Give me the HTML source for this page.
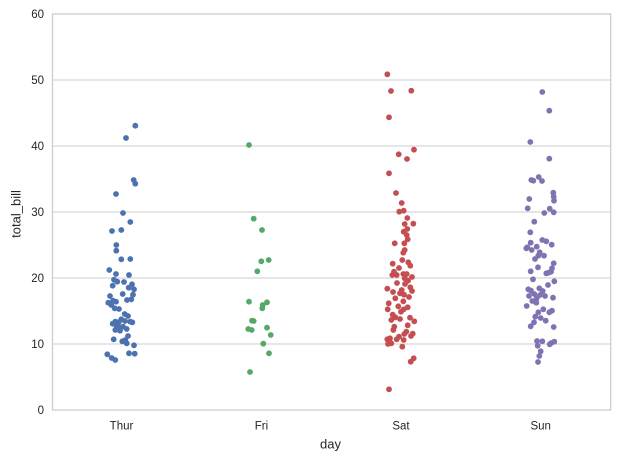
<!DOCTYPE html>
<html>
<head>
<meta charset="utf-8">
<style>
html,body{margin:0;padding:0;background:#fff;}
svg{display:block;}
text{font-family:"Liberation Sans",Arial,sans-serif;fill:#262626;}
</style>
</head>
<body>
<svg width="619" height="460" viewBox="0 0 619 460" xmlns="http://www.w3.org/2000/svg">
<rect x="0" y="0" width="619" height="460" fill="#fff"/>
<!-- grid -->
<g stroke="#cccccc" stroke-width="1">
<line x1="52.5" y1="344" x2="610.7" y2="344"/>
<line x1="52.5" y1="278" x2="610.7" y2="278"/>
<line x1="52.5" y1="212" x2="610.7" y2="212"/>
<line x1="52.5" y1="146" x2="610.7" y2="146"/>
<line x1="52.5" y1="80" x2="610.7" y2="80"/>
</g>
<!-- spines -->
<rect x="52.5" y="14" width="558.2" height="396" fill="none" stroke="#cccccc" stroke-width="1.25"/>
<!-- y tick labels -->
<g font-size="11.5" text-anchor="end">
<text x="44" y="414">0</text>
<text x="44" y="348">10</text>
<text x="44" y="282">20</text>
<text x="44" y="216">30</text>
<text x="44" y="150">40</text>
<text x="44" y="84">50</text>
<text x="44" y="18">60</text>
</g>
<!-- x tick labels -->
<g font-size="11.5" text-anchor="middle">
<text x="121.5" y="429.5">Thur</text>
<text x="261.5" y="429.5">Fri</text>
<text x="401" y="429.5">Sat</text>
<text x="540.7" y="429.5">Sun</text>
</g>
<text x="330.5" y="448.5" font-size="13" text-anchor="middle">day</text>
<text transform="translate(20.5,214) rotate(-90)" font-size="13" text-anchor="middle">total_bill</text>

<!-- Thur -->
<g fill="#4C72B0">
<circle cx="135.3" cy="125.7" r="2.9"/><circle cx="126" cy="138" r="2.9"/><circle cx="133.7" cy="180" r="2.9"/><circle cx="135.3" cy="183.7" r="2.9"/>
<circle cx="116" cy="194" r="2.9"/><circle cx="123" cy="213" r="2.9"/><circle cx="130.3" cy="222" r="2.9"/><circle cx="112" cy="231" r="2.9"/>
<circle cx="121.3" cy="230" r="2.9"/><circle cx="116.3" cy="245" r="2.9"/><circle cx="116.3" cy="250.7" r="2.9"/><circle cx="121.3" cy="259.3" r="2.9"/>
<circle cx="130.3" cy="259" r="2.9"/><circle cx="109.3" cy="270" r="2.9"/><circle cx="116" cy="274" r="2.9"/><circle cx="129" cy="275" r="2.9"/>
<circle cx="114" cy="279.7" r="2.9"/><circle cx="117.3" cy="281.7" r="2.9"/><circle cx="132" cy="284.3" r="2.9"/><circle cx="112.7" cy="285.7" r="2.9"/>
<circle cx="128.7" cy="287.7" r="2.9"/><circle cx="134" cy="289.3" r="2.9"/><circle cx="122.7" cy="294" r="2.9"/><circle cx="133" cy="294.7" r="2.9"/>
<circle cx="108.3" cy="302.7" r="2.9"/><circle cx="113" cy="300.7" r="2.9"/><circle cx="116" cy="301.7" r="2.9"/><circle cx="111.3" cy="305" r="2.9"/>
<circle cx="114.7" cy="308.3" r="2.9"/><circle cx="127" cy="300" r="2.9"/><circle cx="131.3" cy="299.3" r="2.9"/><circle cx="124.7" cy="314" r="2.9"/>
<circle cx="128" cy="316" r="2.9"/><circle cx="121.3" cy="319.3" r="2.9"/><circle cx="115.3" cy="321.7" r="2.9"/><circle cx="112.7" cy="323.7" r="2.9"/>
<circle cx="118.7" cy="322.3" r="2.9"/><circle cx="125" cy="321" r="2.9"/><circle cx="130.3" cy="321.7" r="2.9"/><circle cx="132.3" cy="322.3" r="2.9"/>
<circle cx="116.7" cy="326.7" r="2.9"/><circle cx="119.3" cy="327.7" r="2.9"/><circle cx="123" cy="326.7" r="2.9"/><circle cx="115.3" cy="330" r="2.9"/>
<circle cx="120" cy="330.7" r="2.9"/><circle cx="126.7" cy="329" r="2.9"/><circle cx="128" cy="336" r="2.9"/><circle cx="113.7" cy="339.3" r="2.9"/>
<circle cx="122.3" cy="341.3" r="2.9"/><circle cx="125.3" cy="340" r="2.9"/><circle cx="126.7" cy="343.3" r="2.9"/><circle cx="134" cy="345.3" r="2.9"/>
<circle cx="107.3" cy="354.3" r="2.9"/><circle cx="129" cy="353.3" r="2.9"/><circle cx="134.7" cy="353.7" r="2.9"/><circle cx="111.7" cy="358" r="2.9"/>
<circle cx="115.3" cy="360" r="2.9"/><circle cx="119" cy="309" r="2.9"/><circle cx="110" cy="296" r="2.9"/><circle cx="124" cy="282" r="2.9"/>
</g>

<!-- Fri -->
<g fill="#55A868">
<circle cx="249" cy="145" r="2.9"/><circle cx="253.7" cy="218.7" r="2.9"/><circle cx="262" cy="230" r="2.9"/><circle cx="261.3" cy="261.3" r="2.9"/>
<circle cx="268.7" cy="260" r="2.9"/><circle cx="257.3" cy="271.3" r="2.9"/><circle cx="249" cy="301.7" r="2.9"/><circle cx="267" cy="302.3" r="2.9"/>
<circle cx="262.7" cy="305" r="2.9"/><circle cx="262.3" cy="308.3" r="2.9"/><circle cx="252" cy="320.7" r="2.9"/><circle cx="253.7" cy="321" r="2.9"/>
<circle cx="248.3" cy="329" r="2.9"/><circle cx="251.7" cy="330" r="2.9"/><circle cx="267" cy="327.7" r="2.9"/><circle cx="270.7" cy="335" r="2.9"/>
<circle cx="263.3" cy="343.7" r="2.9"/><circle cx="269" cy="353.3" r="2.9"/><circle cx="250" cy="372" r="2.9"/>
</g>

<!-- Sat -->
<g fill="#C44E52">
<circle cx="387.3" cy="74.3" r="2.9"/><circle cx="391" cy="91" r="2.9"/><circle cx="411.3" cy="90.7" r="2.9"/><circle cx="389" cy="117.3" r="2.9"/>
<circle cx="414" cy="149.7" r="2.9"/><circle cx="398.7" cy="154.3" r="2.9"/><circle cx="407" cy="159" r="2.9"/><circle cx="389" cy="173.3" r="2.9"/>
<circle cx="396" cy="193" r="2.9"/><circle cx="401.7" cy="203" r="2.9"/><circle cx="399.3" cy="211.7" r="2.9"/><circle cx="403.7" cy="210.7" r="2.9"/>
<circle cx="407.3" cy="218" r="2.9"/><circle cx="404.7" cy="224" r="2.9"/><circle cx="413.3" cy="223.7" r="2.9"/><circle cx="407.3" cy="229" r="2.9"/>
<circle cx="403.7" cy="231.7" r="2.9"/><circle cx="406.7" cy="235" r="2.9"/><circle cx="407.7" cy="239.3" r="2.9"/><circle cx="394.7" cy="243.3" r="2.9"/>
<circle cx="404.3" cy="243.3" r="2.9"/><circle cx="404.7" cy="250" r="2.9"/><circle cx="403.3" cy="252.7" r="2.9"/><circle cx="402.3" cy="260" r="2.9"/>
<circle cx="392.7" cy="263.7" r="2.9"/><circle cx="408.3" cy="262.3" r="2.9"/><circle cx="410.3" cy="265.7" r="2.9"/><circle cx="394" cy="271.7" r="2.9"/>
<circle cx="392.3" cy="275" r="2.9"/><circle cx="396.7" cy="275" r="2.9"/><circle cx="403.3" cy="274" r="2.9"/><circle cx="406.7" cy="274" r="2.9"/>
<circle cx="404.7" cy="278.3" r="2.9"/><circle cx="408" cy="280.7" r="2.9"/><circle cx="405" cy="284" r="2.9"/><circle cx="387.3" cy="288.7" r="2.9"/>
<circle cx="401.7" cy="290" r="2.9"/><circle cx="410.3" cy="287.3" r="2.9"/><circle cx="412" cy="291" r="2.9"/><circle cx="400" cy="293.3" r="2.9"/>
<circle cx="404" cy="294.7" r="2.9"/><circle cx="395.3" cy="298.3" r="2.9"/><circle cx="403.3" cy="301.3" r="2.9"/><circle cx="388.7" cy="303.3" r="2.9"/>
<circle cx="398.3" cy="306.3" r="2.9"/><circle cx="407.7" cy="307.3" r="2.9"/><circle cx="387.7" cy="309.3" r="2.9"/><circle cx="403.7" cy="309.3" r="2.9"/>
<circle cx="401" cy="311.7" r="2.9"/><circle cx="392.7" cy="314.7" r="2.9"/><circle cx="410" cy="317.7" r="2.9"/><circle cx="395.3" cy="317.3" r="2.9"/>
<circle cx="414.3" cy="321.3" r="2.9"/><circle cx="391.3" cy="320" r="2.9"/><circle cx="394.3" cy="326.7" r="2.9"/><circle cx="407.7" cy="325.3" r="2.9"/>
<circle cx="393.3" cy="330" r="2.9"/><circle cx="406.3" cy="331.7" r="2.9"/><circle cx="412.7" cy="333.7" r="2.9"/><circle cx="411" cy="336" r="2.9"/>
<circle cx="404.3" cy="334" r="2.9"/><circle cx="399" cy="336.7" r="2.9"/><circle cx="387.3" cy="339.3" r="2.9"/><circle cx="390" cy="338.3" r="2.9"/>
<circle cx="391.3" cy="343.3" r="2.9"/><circle cx="396.7" cy="339.3" r="2.9"/><circle cx="403.7" cy="340" r="2.9"/><circle cx="402.3" cy="346.7" r="2.9"/>
<circle cx="413.7" cy="358.3" r="2.9"/><circle cx="410.7" cy="361.7" r="2.9"/><circle cx="389" cy="389.3" r="2.9"/>
<circle cx="397" cy="283" r="2.9"/><circle cx="399" cy="268" r="2.9"/><circle cx="409" cy="297" r="2.9"/><circle cx="393" cy="292" r="2.9"/>
<circle cx="388" cy="344" r="2.9"/><circle cx="400" cy="319" r="2.9"/><circle cx="412" cy="277" r="2.9"/>
</g>

<!-- Sun -->
<g fill="#8172B2">
<circle cx="542.3" cy="92" r="2.9"/><circle cx="549.3" cy="110.7" r="2.9"/><circle cx="530.3" cy="142" r="2.9"/><circle cx="549.3" cy="158.7" r="2.9"/>
<circle cx="531.3" cy="180" r="2.9"/><circle cx="533.3" cy="180.7" r="2.9"/><circle cx="538.7" cy="177" r="2.9"/><circle cx="542" cy="181" r="2.9"/>
<circle cx="553.3" cy="192.7" r="2.9"/><circle cx="553.7" cy="196.7" r="2.9"/><circle cx="529.3" cy="199" r="2.9"/><circle cx="554" cy="200.7" r="2.9"/>
<circle cx="527.7" cy="208.3" r="2.9"/><circle cx="549.7" cy="208.7" r="2.9"/><circle cx="553.7" cy="212.3" r="2.9"/><circle cx="544.3" cy="213" r="2.9"/>
<circle cx="534.3" cy="221.7" r="2.9"/><circle cx="530.3" cy="232.3" r="2.9"/><circle cx="542.3" cy="240" r="2.9"/><circle cx="546.3" cy="241.3" r="2.9"/>
<circle cx="551.7" cy="244.7" r="2.9"/><circle cx="530.7" cy="242.7" r="2.9"/><circle cx="527.3" cy="247.3" r="2.9"/><circle cx="536.7" cy="246.7" r="2.9"/>
<circle cx="526.3" cy="248.3" r="2.9"/><circle cx="531.7" cy="250" r="2.9"/><circle cx="539.7" cy="252.3" r="2.9"/><circle cx="538.3" cy="255.7" r="2.9"/>
<circle cx="544" cy="255.7" r="2.9"/><circle cx="553.7" cy="263.3" r="2.9"/><circle cx="538" cy="267.3" r="2.9"/><circle cx="552" cy="268.3" r="2.9"/>
<circle cx="530.7" cy="271.3" r="2.9"/><circle cx="551" cy="271.7" r="2.9"/><circle cx="548.7" cy="272.7" r="2.9"/><circle cx="546.3" cy="273.3" r="2.9"/>
<circle cx="533" cy="279.3" r="2.9"/><circle cx="554.3" cy="281.3" r="2.9"/><circle cx="528.3" cy="289.3" r="2.9"/><circle cx="531" cy="290.7" r="2.9"/>
<circle cx="539.3" cy="288.3" r="2.9"/><circle cx="542.7" cy="291" r="2.9"/><circle cx="534.3" cy="294" r="2.9"/><circle cx="529" cy="296" r="2.9"/>
<circle cx="536.7" cy="298.3" r="2.9"/><circle cx="540" cy="295" r="2.9"/><circle cx="545" cy="296" r="2.9"/><circle cx="553" cy="297.7" r="2.9"/>
<circle cx="532.3" cy="301" r="2.9"/><circle cx="536.3" cy="302.7" r="2.9"/><circle cx="526.7" cy="306" r="2.9"/><circle cx="543.3" cy="309.3" r="2.9"/>
<circle cx="552" cy="310.7" r="2.9"/><circle cx="549.3" cy="312.3" r="2.9"/><circle cx="538.3" cy="312.3" r="2.9"/><circle cx="535.3" cy="316.7" r="2.9"/>
<circle cx="540.7" cy="318" r="2.9"/><circle cx="545.7" cy="320.7" r="2.9"/><circle cx="534" cy="322.3" r="2.9"/><circle cx="530.7" cy="326.3" r="2.9"/>
<circle cx="553.7" cy="327" r="2.9"/><circle cx="537" cy="341" r="2.9"/><circle cx="542.3" cy="341.3" r="2.9"/><circle cx="554.3" cy="341.7" r="2.9"/>
<circle cx="551.3" cy="343" r="2.9"/><circle cx="549.7" cy="344.3" r="2.9"/><circle cx="537.7" cy="345.7" r="2.9"/><circle cx="540.7" cy="351.3" r="2.9"/>
<circle cx="539.3" cy="356" r="2.9"/><circle cx="538" cy="362" r="2.9"/><circle cx="548" cy="285" r="2.9"/><circle cx="535" cy="259" r="2.9"/>
</g>
</svg>
</body>
</html>
